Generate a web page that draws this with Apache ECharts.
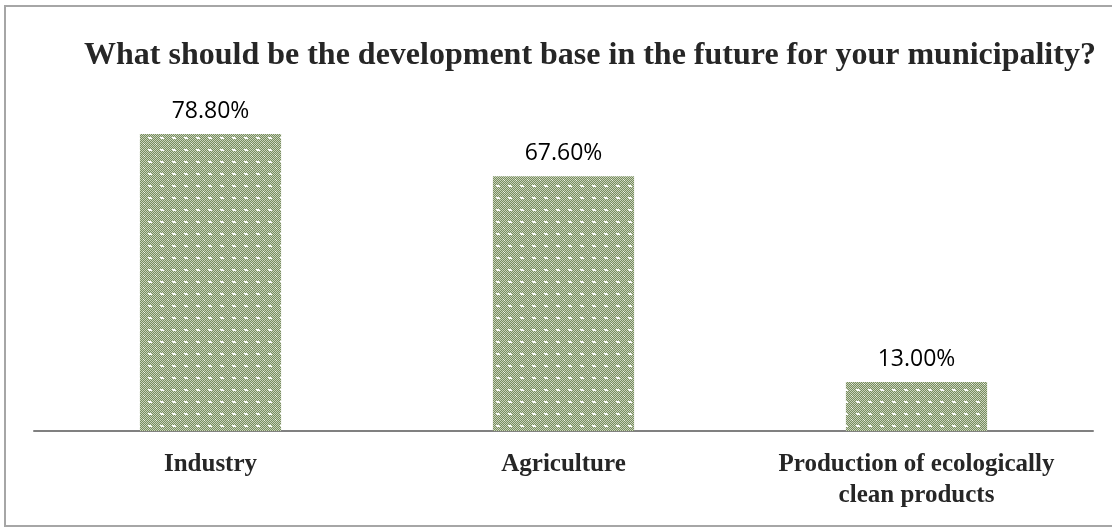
<!DOCTYPE html>
<html>
<head>
<meta charset="utf-8">
<script src="https://cdn.jsdelivr.net/npm/echarts@6/dist/echarts.min.js"></script>
<style>
  html, body { margin: 0; padding: 0; background: #fff; }
  #chart { width: 1112px; height: 527px; }
</style>
</head>
<body>
<div id="chart"></div>
<script>
var categories = ['Industry', 'Agriculture', 'Production of ecologically\nclean products'];
var shares = [78.8, 67.6, 13.0];

// dotted green fill like the original
function makePattern() {
    var c = document.createElement('canvas');
    c.width = 12; c.height = 12;
    var g = c.getContext('2d');
    g.fillStyle = '#778c5e';
    g.fillRect(0, 0, 12, 12);
    g.fillStyle = '#c9d2bb';
    for (var y = 0; y < 12; y++)
        for (var x = 0; x < 12; x++)
            if ((x + y) % 2 == 0) g.fillRect(x, y, 1, 1);
    g.fillStyle = '#ffffff';
    g.fillRect(5, 5, 2, 2);
    g.fillRect(4, 5, 1, 1); g.fillRect(7, 6, 1, 1);
    g.fillStyle = '#eef1e8';
    g.fillRect(11, 11, 1, 1); g.fillRect(0, 0, 1, 1);
    return c;
}

var chart = echarts.init(document.getElementById('chart'));
chart.setOption({
    animation: false,
    title: {
        text: 'What should be the development base in the future for your municipality?',
        left: 79,
        top: 35,
        textStyle: {
            fontFamily: 'Liberation Serif',
            fontWeight: 'bold',
            fontSize: 32,
            color: '#262626'
        }
    },
    graphic: [{
        type: 'rect',
        shape: { x: 5, y: 6, width: 1120, height: 520 },
        style: { fill: 'none', stroke: '#a6a6a6', lineWidth: 2 },
        silent: true
    }],
    grid: { left: 34, right: 19, top: 54, bottom: 96 },
    xAxis: {
        type: 'category',
        data: categories,
        axisLine: { lineStyle: { color: '#808080', width: 2 } },
        axisTick: { show: false },
        axisLabel: {
            interval: 0,
            margin: 18,
            fontFamily: 'Liberation Serif',
            fontWeight: 'bold',
            fontSize: 25,
            lineHeight: 31,
            color: '#262626'
        }
    },
    yAxis: {
        type: 'value',
        min: 0,
        max: 100,
        show: false
    },
    series: [{
        type: 'bar',
        data: shares,
        barWidth: '40%',
        itemStyle: {
            color: { image: makePattern(), repeat: 'repeat' }
        },
        label: {
            show: true,
            position: 'top',
            distance: 11,
            fontFamily: 'Open Sans',
            fontSize: 23,
            color: '#000',
            formatter: function (p) { return p.value.toFixed(2) + '%'; }
        }
    }]
});
</script>
</body>
</html>
